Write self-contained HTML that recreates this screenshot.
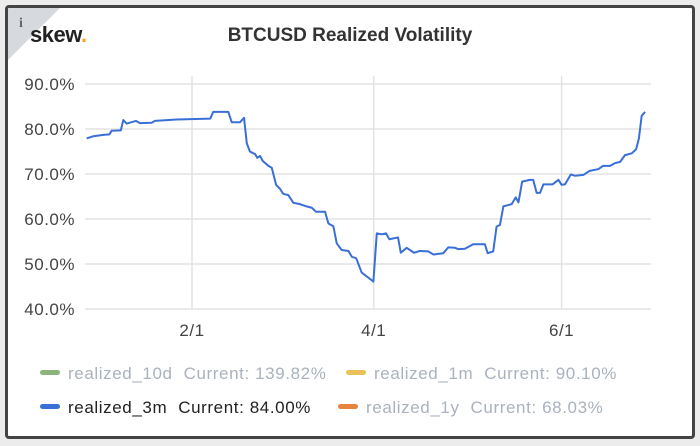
<!DOCTYPE html>
<html><head><meta charset="utf-8"><style>
body{margin:0;width:700px;height:446px;background:#ececec;font-family:"Liberation Sans",sans-serif;overflow:hidden;position:relative}
#card{position:absolute;left:5px;top:5px;width:684px;height:428px;border:3px solid #444;border-radius:4px;background:#fff;overflow:hidden}
#corner{position:absolute;left:0;top:0;width:0;height:0;border-top:52px solid #d6d9dd;border-right:52px solid transparent}
.t{position:absolute;white-space:nowrap}
</style></head><body>
<div id="card">
<div id="corner"></div>
<div class="t" style="left:11px;top:8px;font:bold 14px 'Liberation Serif',serif;color:#666">i</div>
<div class="t" style="left:22px;top:14px;font:bold 22px 'Liberation Sans',sans-serif;color:#222;letter-spacing:-0.5px">skew<span style="color:#f5a623">.</span></div>
<div class="t" style="left:0;width:684px;text-align:center;top:17px;font:bold 19px 'Liberation Sans',sans-serif;color:#333">BTCUSD Realized Volatility</div>
</div>
<svg id="chart" width="700" height="446" style="position:absolute;left:0;top:0"></svg>
<script>
const days=[-3.2,-1.0,2.2,4.2,4.9,7.9,8.7,9.8,12.8,14.1,17.9,19.0,26.0,36.9,37.9,42.8,43.9,46.6,47.9,48.8,49.8,51.5,52.2,53.1,54.0,55.8,56.9,58.3,59.6,60.6,62.3,63.9,66.1,68.2,69.9,71.3,74.2,75.3,76.9,78.0,79.6,81.8,82.9,84.3,86.1,88.2,89.9,91.0,92.6,94.0,95.1,97.9,98.8,100.7,103.1,105.0,107.7,109.4,112.6,114.2,116.4,117.5,119.6,122.3,126.1,127.0,128.8,129.9,131.0,132.1,134.8,136.1,137.0,138.2,140.7,141.8,142.9,144.0,145.1,148.1,150.0,151.0,152.1,154.0,155.4,158.1,160.1,163.0,164.4,166.7,168.3,170.0,171.6,173.8,175.2,176.1,177.0,178.1];
const vol3m=[77.9,78.4,78.7,78.8,79.6,79.7,82.0,81.2,81.8,81.3,81.4,81.8,82.1,82.3,83.8,83.8,81.5,81.5,82.5,76.8,75.0,74.4,73.6,74.0,72.9,71.8,71.4,67.6,66.7,65.6,65.3,63.6,63.3,62.8,62.5,61.6,61.6,59.0,58.4,54.6,53.1,52.9,51.6,51.3,48.1,47.0,46.1,56.8,56.6,56.8,55.5,55.9,52.5,53.6,52.5,52.9,52.8,52.1,52.4,53.7,53.6,53.3,53.4,54.4,54.4,52.4,52.8,58.3,58.7,62.8,63.3,64.8,63.7,68.3,68.7,68.7,65.8,65.8,67.7,67.7,68.7,67.6,67.7,69.9,69.6,69.8,70.7,71.1,71.8,71.8,72.4,72.7,74.2,74.6,75.5,77.9,82.9,83.8];
const yTicks=[40,50,60,70,80,90];
const xTickDays=[31,90,151];
const xTickLabels=["2/1","4/1","6/1"];
const legendNames=["realized_10d","realized_1m","realized_3m","realized_1y"];
const legendCurrent=["139.82%","90.10%","84.00%","68.03%"];
const legendColors=["#8cb47a","#e8c15a","#3a6fd8","#e8843f"];
const legendActive=[false,false,true,false];

const NS="http://www.w3.org/2000/svg";
const svg=document.getElementById('chart');
const X0=85,X1=651,Y40=309,Y90=84;
const xs=d=>96.5+d*3.08;
const ys=v=>Y40-(v-40)*(Y40-Y90)/50;
function mk(t,a){const e=document.createElementNS(NS,t);for(const k in a)e.setAttribute(k,a[k]);svg.appendChild(e);return e;}
yTicks.forEach(v=>{
 const l=mk('line',{x1:X0,x2:X1,y1:ys(v),y2:ys(v),stroke:'#e3e3e3','stroke-width':1.5});
 
 
 const t=mk('text',{x:75,y:ys(v)+6,'text-anchor':'end','font-size':17,'letter-spacing':0.5,fill:'#444','font-family':'Liberation Sans, sans-serif'});
 t.textContent=v.toFixed(1)+'%';
 
 
});
xTickDays.forEach((d,i)=>{
 const l=mk('line',{x1:xs(d),x2:xs(d),y1:76,y2:Y40,stroke:'#e3e3e3','stroke-width':1.5});
 
 
 const t=mk('text',{x:xs(d),y:336,'text-anchor':'middle','font-size':17,'letter-spacing':0.5,fill:'#444','font-family':'Liberation Sans, sans-serif'});
 t.textContent=xTickLabels[i];
 
 
});
const p=mk('polyline',{points:days.map((d,i)=>xs(d)+','+ys(vol3m[i])).join(' '),fill:'none',stroke:'#3a6fd8','stroke-width':2,'stroke-linejoin':'round'});


const lx=[40,346,40,338],ly=[373,373,407,407];
legendNames.forEach((n,i)=>{
 const g=mk('g',{});
 
 
 const r=document.createElementNS(NS,'rect');
 r.setAttribute('x',lx[i]);r.setAttribute('y',ly[i]-3);r.setAttribute('width',20);r.setAttribute('height',5);r.setAttribute('rx',2.5);r.setAttribute('fill',legendColors[i]);
 g.appendChild(r);
 const t=document.createElementNS(NS,'text');
 t.setAttribute('x',lx[i]+28);t.setAttribute('y',ly[i]+6);t.setAttribute('font-size',17);t.setAttribute('letter-spacing',0.6);t.setAttribute('font-family','Liberation Sans, sans-serif');
 t.setAttribute('fill',legendActive[i]?'#222':'#aab2bd');
 const s1=document.createElementNS(NS,'tspan');s1.textContent=n;t.appendChild(s1);
 const s2=document.createElementNS(NS,'tspan');s2.setAttribute('dx',11);s2.textContent='Current: '+legendCurrent[i];t.appendChild(s2);
 g.appendChild(t);
});
</script>
</body></html>
